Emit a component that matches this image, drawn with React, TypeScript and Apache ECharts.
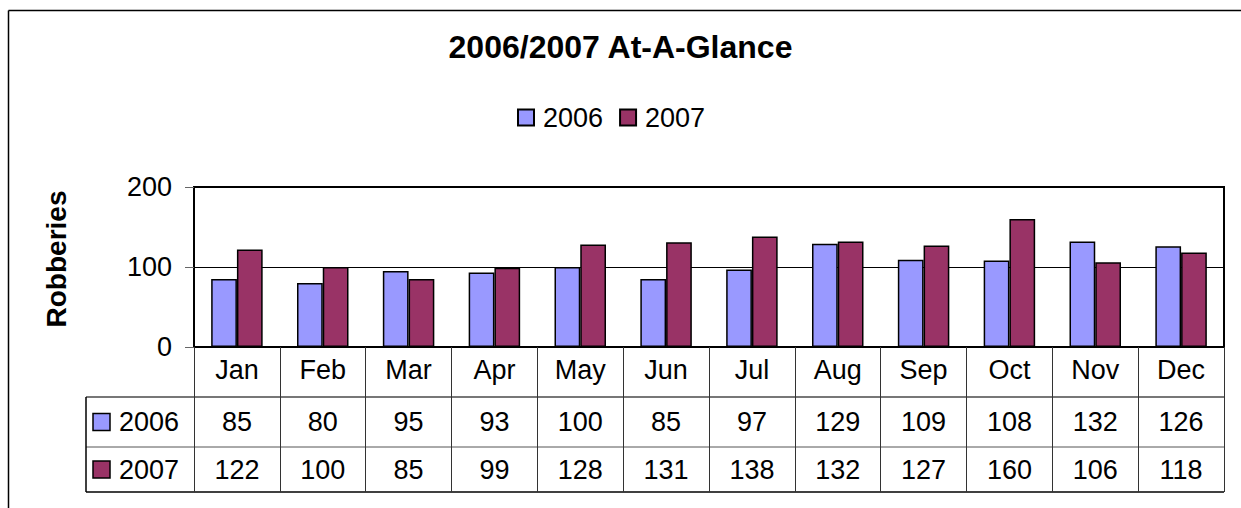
import React, { useEffect, useRef } from "react";
import * as echarts from "echarts";

const titleText = "2006/2007 At-A-Glance";
const yAxisName = "Robberies";
const months = ["Jan", "Feb", "Mar", "Apr", "May", "Jun", "Jul", "Aug", "Sep", "Oct", "Nov", "Dec"];
const seriesNames = ["2006", "2007"];
const values2006 = [85, 80, 95, 93, 100, 85, 97, 129, 109, 108, 132, 126];
const values2007 = [122, 100, 85, 99, 128, 131, 138, 132, 127, 160, 106, 118];
const colors = ["#9999FF", "#993366"];

const FONT = "'Liberation Sans', Arial, sans-serif";
const FS = 27;

export default function App() {
  const ref = useRef<HTMLDivElement>(null);
  useEffect(() => {
    document.body.style.margin = "0";
    const chart = echarts.init(ref.current!, null, { renderer: "svg" });
    const option: any = {
      animation: false,
      backgroundColor: "#fff",
      textStyle: { fontFamily: FONT },
      title: {
        text: titleText,
        left: "center",
        top: 26,
        textStyle: { fontSize: 32, fontWeight: "bold", color: "#000", fontFamily: FONT },
      },
      legend: {
        data: seriesNames,
        top: 99,
        left: 512,
        icon: "rect",
        itemWidth: 16,
        itemHeight: 16,
        itemGap: 16,
        textStyle: { fontSize: FS, color: "#000", fontFamily: FONT, padding: [0, 0, 0, 4] },
      },
      grid: {
        left: 194,
        top: 187,
        right: 17,
        bottom: 161,
        show: true,
        borderColor: "#000",
        borderWidth: 2,
      },
      xAxis: {
        type: "category",
        data: months,
        axisLine: { show: true, lineStyle: { color: "#000", width: 2 } },
        axisTick: { show: true, interval: 0, length: 145, lineStyle: { color: "#333", width: 1 } },
        axisLabel: { fontSize: FS, color: "#000", margin: 9, fontFamily: FONT },
      },
      yAxis: {
        type: "value",
        min: 0,
        max: 200,
        interval: 100,
        axisLine: { show: true, lineStyle: { color: "#000", width: 2 } },
        axisTick: { show: true, length: 9, lineStyle: { color: "#666", width: 1 } },
        axisLabel: { fontSize: FS, color: "#000", margin: 22, fontFamily: FONT },
        splitLine: { show: true, lineStyle: { color: "#000", width: 1 } },
      },
      series: [
        {
          name: seriesNames[0],
          type: "bar",
          data: values2006,
          barGap: "0%",
          barCategoryGap: "40%",
          itemStyle: { color: colors[0], borderColor: "#000", borderWidth: 1.5 },
        },
        {
          name: seriesNames[1],
          type: "bar",
          data: values2007,
          barGap: "0%",
          barCategoryGap: "40%",
          itemStyle: { color: colors[1], borderColor: "#000", borderWidth: 1.5 },
        },
      ],
    };
    chart.setOption(option);

    // Build the data table below the axis using the library's own scales
    const xLeft = chart.convertToPixel({ xAxisIndex: 0 }, 0) as number;
    const xStep = (chart.convertToPixel({ xAxisIndex: 0 }, 1) as number) - xLeft;
    const plotLeft = xLeft - xStep / 2;
    const plotRight = plotLeft + xStep * months.length;
    const axisY = chart.convertToPixel({ yAxisIndex: 0 }, 0) as number;
    const row1Top = axisY + 50;
    const row2Top = axisY + 100;
    const tableBottom = axisY + 145;
    const tableLeft = 86;
    const rows = [
      { name: seriesNames[0], values: values2006, color: colors[0], top: row1Top, bottom: row2Top },
      { name: seriesNames[1], values: values2007, color: colors[1], top: row2Top, bottom: tableBottom },
    ];
    const graphic: any[] = [
      // outer chart border (left and top)
      { type: "line", shape: { x1: 8.5, y1: 10.5, x2: 8.5, y2: 520 }, style: { stroke: "#000", lineWidth: 1.5 } },
      { type: "line", shape: { x1: 8.5, y1: 10.5, x2: 1245, y2: 10.5 }, style: { stroke: "#000", lineWidth: 1.5 } },
      { type: "line", shape: { x1: tableLeft, y1: row1Top, x2: plotRight, y2: row1Top }, style: { stroke: "#777", lineWidth: 2 } },
      { type: "line", shape: { x1: tableLeft, y1: row2Top, x2: plotRight, y2: row2Top }, style: { stroke: "#555", lineWidth: 1 } },
      { type: "line", shape: { x1: tableLeft, y1: tableBottom, x2: plotRight, y2: tableBottom }, style: { stroke: "#000", lineWidth: 1.5 } },
      { type: "line", shape: { x1: tableLeft, y1: row1Top, x2: tableLeft, y2: tableBottom }, style: { stroke: "#000", lineWidth: 1.5 } },
      {
        type: "text",
        x: 56,
        y: 259,
        rotation: Math.PI / 2,
        style: { text: yAxisName, fontSize: 28, fontWeight: "bold", fontFamily: FONT, fill: "#000", textAlign: "center", textVerticalAlign: "middle" },
      },
    ];
    rows.forEach((r) => {
      const cy = (r.top + r.bottom) / 2;
      graphic.push({
        type: "rect",
        shape: { x: 93, y: cy - 8.5, width: 17, height: 17 },
        style: { fill: r.color, stroke: "#000", lineWidth: 1.5 },
      });
      graphic.push({
        type: "text",
        x: 119,
        y: cy,
        style: { text: r.name, fontSize: FS, fontFamily: FONT, fill: "#000", textVerticalAlign: "middle", textAlign: "left" },
      });
      r.values.forEach((v, i) => {
        const cx = chart.convertToPixel({ xAxisIndex: 0 }, i) as number;
        graphic.push({
          type: "text",
          x: cx,
          y: cy,
          style: { text: String(v), fontSize: FS, fontFamily: FONT, fill: "#000", textVerticalAlign: "middle", textAlign: "center" },
        });
      });
    });
    chart.setOption({ graphic });
    return () => chart.dispose();
  }, []);
  return <div ref={ref} style={{ position: "fixed", left: 0, top: 0, width: 1241, height: 508 }} />;
}
